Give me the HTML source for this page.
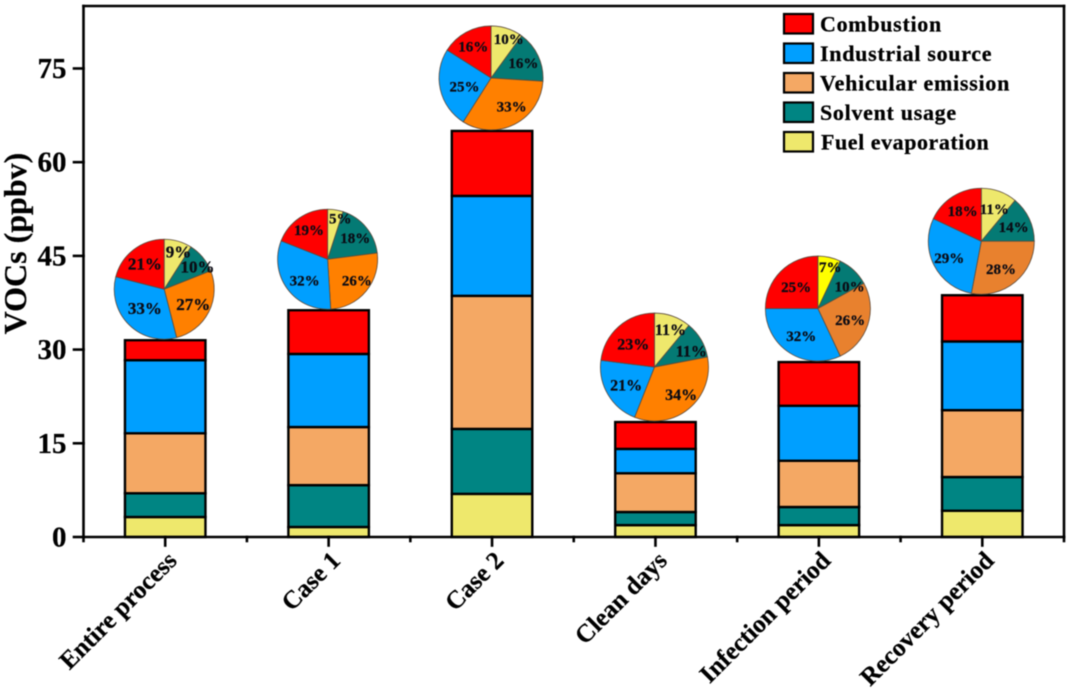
<!DOCTYPE html>
<html lang="en">
<head>
<meta charset="utf-8">
<title>VOCs stacked bars with source pies</title>
<style>
html,body{margin:0;padding:0;background:#fff;width:1068px;height:689px;overflow:hidden}
svg{display:block;filter:blur(0.45px)}
text{font-family:"Liberation Serif",serif;font-weight:bold;fill:#000;stroke:#000;stroke-width:0.25px}
</style>
</head>
<body>
<svg id="chart" xmlns="http://www.w3.org/2000/svg" width="1068" height="689" viewBox="0 0 1068 689">
  <g id="bars"></g>
  <g id="pies"></g>
  <g id="axes"></g>
  <text transform="translate(26,243.5) rotate(-90)" text-anchor="middle" font-size="32">VOCs (ppbv)</text>
  <g>
    <g>
      <rect x="784" y="14" width="29" height="19.5" fill="#ff0000" stroke="#000" stroke-width="2.2"/>
      <text x="820" y="31.5" font-size="22" letter-spacing="0.7">Combustion</text>
    </g>
    <g>
      <rect x="784" y="43.5" width="29" height="19.5" fill="#009fff" stroke="#000" stroke-width="2.2"/>
      <text x="820" y="61" font-size="22" letter-spacing="0.7">Industrial source</text>
    </g>
    <g>
      <rect x="784" y="73" width="29" height="19.5" fill="#f4a864" stroke="#000" stroke-width="2.2"/>
      <text x="820" y="90.5" font-size="22" letter-spacing="0.75">Vehicular emission</text>
    </g>
    <g>
      <rect x="784" y="102.5" width="29" height="19.5" fill="#008583" stroke="#000" stroke-width="2.2"/>
      <text x="820" y="120" font-size="22" letter-spacing="0.7">Solvent usage</text>
    </g>
    <g>
      <rect x="784" y="132" width="29" height="19.5" fill="#eee86c" stroke="#000" stroke-width="2.2"/>
      <text x="821" y="149.5" font-size="22" letter-spacing="0.55">Fuel evaporation</text>
    </g>
  </g>
</svg>
<script>
// ---- chart data ----
const categories = ["Entire process", "Case 1", "Case 2", "Clean days", "Infection period", "Recovery period"];
const yTicks = [0, 15, 30, 45, 60, 75];
// stacked bar values (ppbv), bottom to top
const fuelEvaporation = [3.2, 1.6, 6.9, 1.9, 1.9, 4.2];
const solventUsage = [3.8, 6.7, 10.4, 2.1, 2.9, 5.4];
const vehicularEmission = [9.6, 9.3, 21.3, 6.2, 7.4, 10.7];
const industrialSource = [11.7, 11.7, 16.0, 3.9, 8.8, 11.0];
const combustion = [3.2, 7.0, 10.4, 4.3, 7.0, 7.4];
// pie shares (%), clockwise from 12 o'clock
const pieFuel = [9, 5, 10, 11, 7, 11];
const pieSolvent = [10, 18, 16, 11, 10, 14];
const pieVehicular = [27, 26, 33, 34, 26, 28];
const pieIndustrial = [33, 32, 25, 21, 32, 29];
const pieCombustion = [21, 19, 16, 23, 25, 18];

// ---- layout ----
const SVGNS = "http://www.w3.org/2000/svg";
const plot = {left: 83.5, right: 1064, top: 6, bottom: 537};
const unitsPerPx = 6.247;
const barWidth = 80.5;
function yScale(v) { return plot.bottom - v * unitsPerPx; }
function xBand() { return (plot.right - plot.left) / categories.length; }
function xScale(i) { return plot.left + xBand() * (i + 0.5); }
const pieSizePx = [50, 50, 52, 54, 52.5, 53];
const pieFontPx = [17, 15, 15, 16, 15, 15];
// small hand adjustments of each pie label relative to its computed slice position
const labelShiftX = [
  [3, 2.5, -0.5, 2.5, 2.5],
  [6, -0.7, 3.4, 2.2, 1.8],
  [4.8, -3, 6, 8, 1],
  [1.5, 0, 5.8, 4.8, 3.6],
  [2.9, 3, -1.3, 0.9, 3.5],
  [-1.2, -4.5, -2.5, -1.4, 2.2]
];
const labelShiftY = [
  [1.5, 3, 0, -2.5, 3],
  [1, 2.5, 0, 3, 0.8],
  [0.6, 2, 0, 1, 3],
  [3, 5.8, 2.4, -1.5, 5.2],
  [0.9, 8.6, 0.4, -0.4, 3.9],
  [7.2, 3.3, 1.2, 1.1, 2.9]
];

function make(tag, parent, attrs) {
  const el = document.createElementNS(SVGNS, tag);
  for (const k in attrs) el.setAttribute(k, attrs[k]);
  parent.appendChild(el);
  return el;
}
function slug(s) { return s.toLowerCase().replace(/\s+/g, "-"); }

// ---- bars ----
const barGroup = document.getElementById("bars");
const stack = [
  {name: "fuel-evaporation", values: fuelEvaporation, color: "#eee86c"},
  {name: "solvent-usage", values: solventUsage, color: "#008583"},
  {name: "vehicular-emission", values: vehicularEmission, color: "#f4a864"},
  {name: "industrial-source", values: industrialSource, color: "#009fff"},
  {name: "combustion", values: combustion, color: "#ff0000"}
];
categories.forEach(function (cat, i) {
  let base = 0;
  stack.forEach(function (s) {
    const top = base + s.values[i];
    const r = make("rect", barGroup, {
      x: xScale(i) - barWidth / 2,
      y: yScale(top),
      width: barWidth,
      height: yScale(base) - yScale(top),
      fill: s.color,
      stroke: "#000",
      "stroke-width": 2.4
    });
    
    
    base = top;
  });
});

// ---- pies ----
const pieGroup = document.getElementById("pies");
const pieColorsFor = function (i) {
  const lateOrange = i >= 4;
  return {
    fuel: i === 4 ? "#ffff00" : "#eee86c",
    solvent: "#047a74",
    vehicular: lateOrange ? "#e8812e" : "#ff8000",
    industrial: "#009fff",
    combustion: "#ff0000"
  };
};
categories.forEach(function (cat, i) {
  const r = pieSizePx[i];
  const total = fuelEvaporation[i] + solventUsage[i] + vehicularEmission[i] + industrialSource[i] + combustion[i];
  const cx = xScale(i) - 1;
  const cy = yScale(total) - r - 1;
  const colors = pieColorsFor(i);
  const slices = [
    {key: "fuel", v: pieFuel[i]},
    {key: "solvent", v: pieSolvent[i]},
    {key: "vehicular", v: pieVehicular[i]},
    {key: "industrial", v: pieIndustrial[i]},
    {key: "combustion", v: pieCombustion[i]}
  ];
  const sum = slices.reduce(function (a, s) { return a + s.v; }, 0);
  const g = make("g", pieGroup, {});
  
  
  let acc = 0;
  slices.forEach(function (s) {
    const a0 = acc / sum * 2 * Math.PI;
    acc += s.v;
    const a1 = acc / sum * 2 * Math.PI;
    const large = (a1 - a0) > Math.PI ? 1 : 0;
    const d = "M" + cx + " " + cy +
      "L" + (cx + r * Math.sin(a0)) + " " + (cy - r * Math.cos(a0)) +
      "A" + r + " " + r + " 0 " + large + " 1 " + (cx + r * Math.sin(a1)) + " " + (cy - r * Math.cos(a1)) + "Z";
    const p = make("path", g, {d: d, fill: colors[s.key], stroke: "#5b4a3c", "stroke-width": 0.8});
    
    
  });
  acc = 0;
  slices.forEach(function (s, j) {
    const mid = (acc + s.v / 2) / sum * 2 * Math.PI;
    acc += s.v;
    const rad = r * (0.88 - 0.008 * s.v);
    const t = make("text", g, {
      x: cx + rad * Math.sin(mid) + labelShiftX[i][j],
      y: cy - rad * Math.cos(mid) + pieFontPx[i] * 0.33 + labelShiftY[i][j],
      "text-anchor": "middle",
      "font-size": pieFontPx[i]
    });
    t.style.fill = "#0b0b14";
    t.style.stroke = "#0b0b14";
    t.textContent = s.v + "%";
    
    
  });
});

// ---- axes ----
const axes = document.getElementById("axes");
const lw = 2.6;
function axisLine(x1, y1, x2, y2, name) {
  const l = make("line", axes, {x1: x1, y1: y1, x2: x2, y2: y2, stroke: "#000", "stroke-width": lw, "stroke-linecap": "square"});
  
  
}
axisLine(plot.left, plot.top, plot.left, plot.bottom, 'y-axis-line');
axisLine(plot.left, plot.bottom, plot.right, plot.bottom, 'x-axis-line');
axisLine(plot.left, plot.top, plot.right, plot.top, 'top-border');
axisLine(plot.right, plot.top, plot.right, plot.bottom, 'right-border');
yTicks.forEach(function (v) {
  axisLine(74, yScale(v), plot.left, yScale(v), 'y-tick-' + v);
  const t = make("text", axes, {x: 66.5, y: yScale(v) + 9.5, "text-anchor": "end", "font-size": 29});
  t.textContent = v;
  
  
});
for (let k = 0; k <= categories.length; k++) {
  const x = plot.left + xBand() * k;
  axisLine(x, plot.bottom, x, 541, 'x-minor-tick-' + k);
}
categories.forEach(function (cat, i) {
  axisLine(xScale(i), plot.bottom, xScale(i), 545.5, 'x-tick-' + slug(cat));
  const ax = xScale(i) + 13;
  const ay = 562;
  const t = make("text", axes, {
    transform: "translate(" + ax + "," + ay + ") rotate(-45)",
    "text-anchor": "end",
    "font-size": 25.2
  });
  t.textContent = cat;
  
  
});
</script>
</body>
</html>
